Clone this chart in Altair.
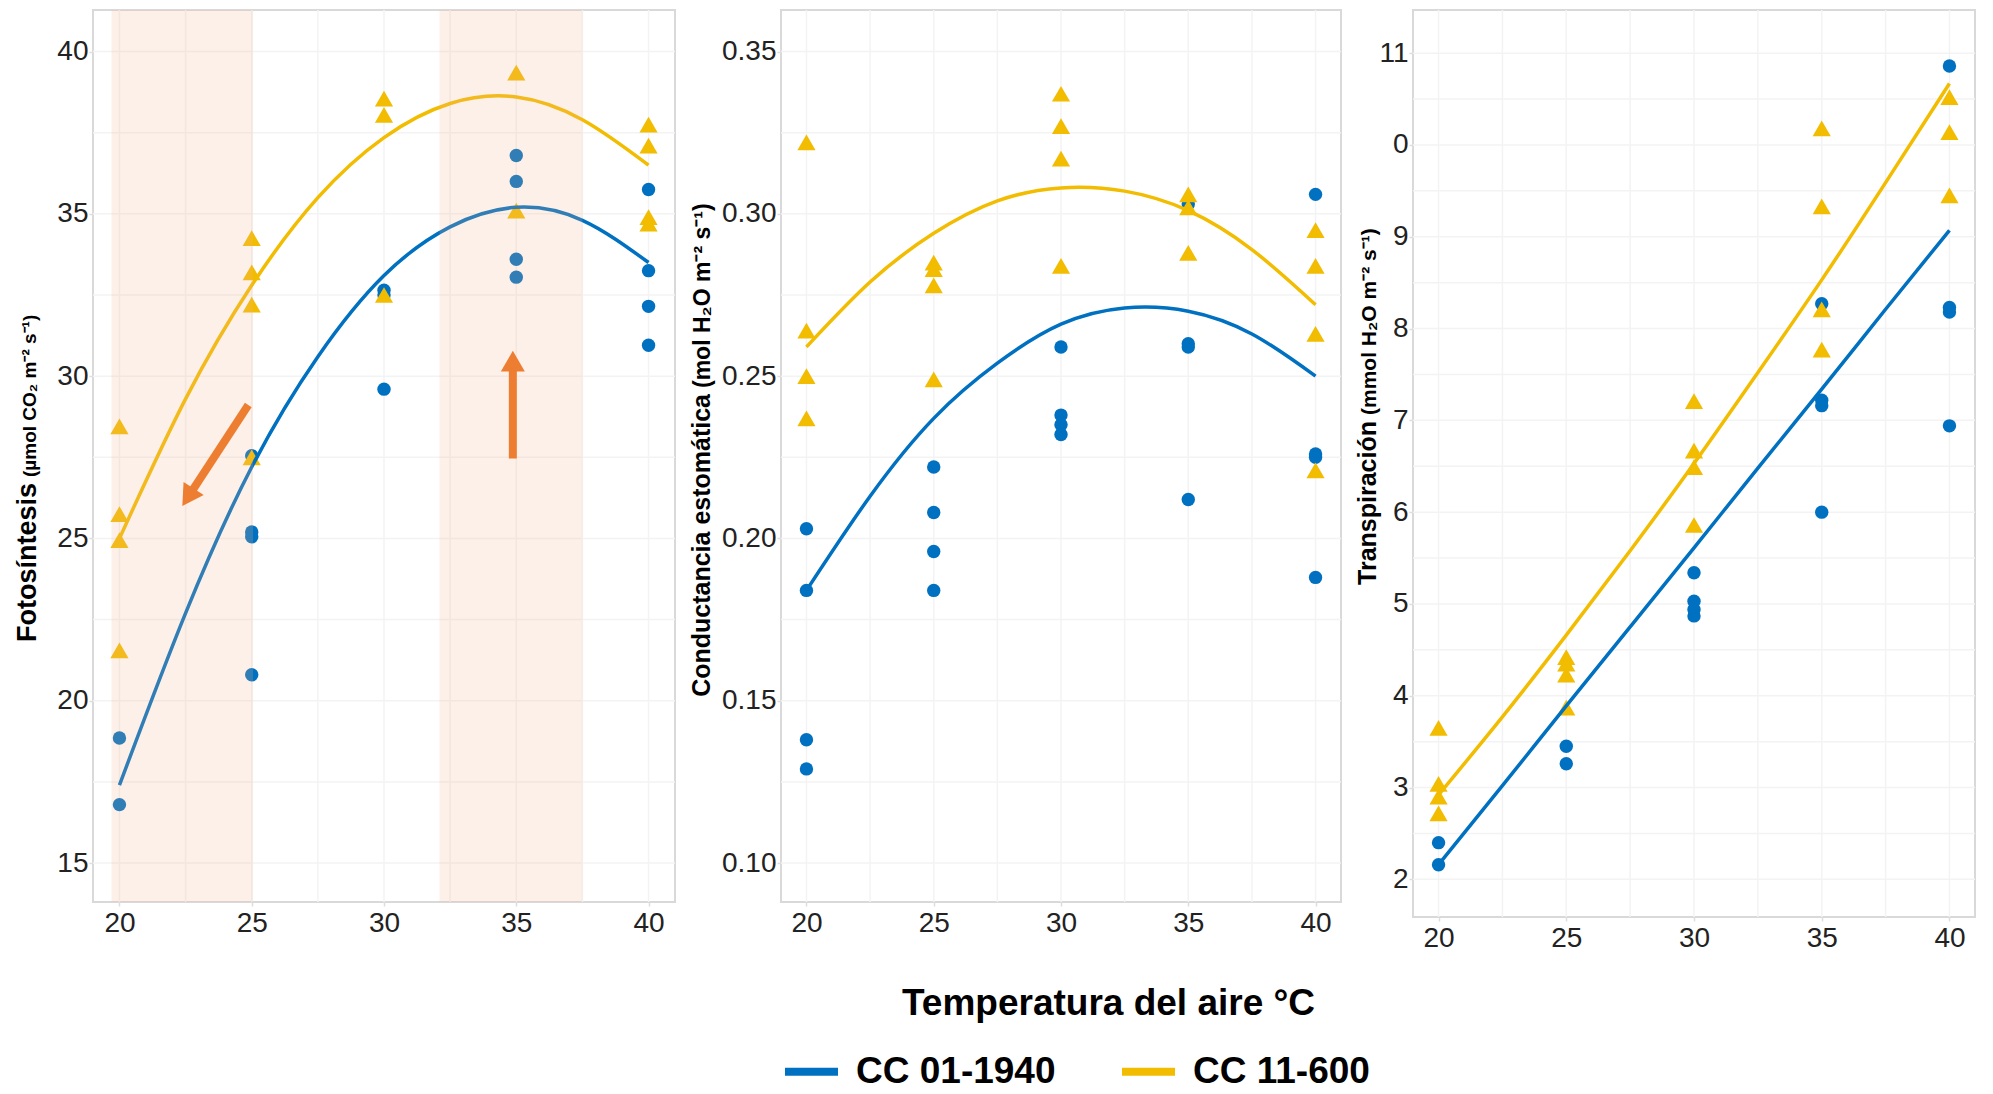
import altair as alt
import pandas as pd

# ---------------- data ----------------
GENOTYPES = ["CC 01-1940", "CC 11-600"]
BLUE = "#0070C0"
YELLOW = "#F2BC00"
LINE_COLORS = [BLUE, YELLOW]

X_TICKS = [20, 25, 30, 35, 40]
X_GRID = [20, 22.5, 25, 27.5, 30, 32.5, 35, 37.5, 40]
CURVE_T = [20, 22.5, 25, 27.5, 30, 32.5, 35, 37.5, 40]

# Fotosintesis
FOTO_BLUE_T = [20, 20, 25, 25, 25, 25, 30, 30, 30, 35, 35, 35, 35, 40, 40, 40, 40]
FOTO_BLUE_V = [18.85, 16.8, 27.55, 25.2, 25.05, 20.8, 32.65, 32.5, 29.6,
               36.8, 36.0, 33.6, 33.05, 35.75, 33.25, 32.15, 30.95]
FOTO_YEL_T = [20, 20, 20, 20, 25, 25, 25, 25, 30, 30, 30, 35, 35, 40, 40, 40, 40]
FOTO_YEL_V = [28.45, 25.75, 24.95, 21.55, 34.25, 33.2, 32.2, 27.5, 38.55, 38.05, 32.5,
              39.35, 35.1, 37.75, 37.1, 34.9, 34.7]
FOTO_CURVE_BLUE = [17.4, 22.7, 27.2, 30.6, 33.1, 34.6, 35.2, 34.8, 33.5]
FOTO_CURVE_YEL = [25.0, 29.3, 32.8, 35.5, 37.35, 38.4, 38.6, 37.9, 36.5]
FOTO_Y_TICKS = [15, 20, 25, 30, 35, 40]
FOTO_Y_GRID = [15, 17.5, 20, 22.5, 25, 27.5, 30, 32.5, 35, 37.5, 40]

# Conductancia estomatica
COND_BLUE_T = [20, 20, 20, 20, 25, 25, 25, 25, 30, 30, 30, 30, 35, 35, 35, 35, 40, 40, 40, 40]
COND_BLUE_V = [0.203, 0.184, 0.138, 0.129, 0.222, 0.208, 0.196, 0.184, 0.259, 0.238, 0.235, 0.232,
               0.303, 0.260, 0.259, 0.212, 0.306, 0.226, 0.225, 0.188]
COND_YEL_T = [20, 20, 20, 20, 25, 25, 25, 25, 30, 30, 30, 30, 35, 35, 35, 40, 40, 40, 40]
COND_YEL_V = [0.322, 0.264, 0.250, 0.237, 0.285, 0.283, 0.278, 0.249, 0.337, 0.327, 0.317, 0.284,
              0.306, 0.302, 0.288, 0.295, 0.284, 0.263, 0.221]
COND_CURVE_BLUE = [0.184, 0.213, 0.237, 0.254, 0.266, 0.271, 0.270, 0.263, 0.250]
COND_CURVE_YEL = [0.259, 0.279, 0.294, 0.304, 0.308, 0.307, 0.301, 0.289, 0.272]
COND_Y_TICKS = [0.10, 0.15, 0.20, 0.25, 0.30, 0.35]
COND_Y_GRID = [0.10, 0.125, 0.15, 0.175, 0.20, 0.225, 0.25, 0.275, 0.30, 0.325, 0.35]

# Transpiracion
TRANS_BLUE_T = [20, 20, 25, 25, 30, 30, 30, 30, 35, 35, 35, 35, 40, 40, 40, 40]
TRANS_BLUE_V = [2.40, 2.16, 3.45, 3.26, 5.34, 5.03, 4.94, 4.87, 8.27, 7.22, 7.16, 6.00,
                10.86, 8.23, 8.18, 6.94]
TRANS_YEL_T = [20, 20, 20, 20, 25, 25, 25, 25, 30, 30, 30, 30, 35, 35, 35, 35, 40, 40, 40]
TRANS_YEL_V = [3.65, 3.04, 2.90, 2.72, 4.42, 4.35, 4.23, 3.87, 7.21, 6.67, 6.49, 5.86,
               10.18, 9.33, 8.21, 7.77, 10.52, 10.14, 9.45]
TRANS_CURVE_BLUE = [2.16, 3.02, 3.89, 4.75, 5.61, 6.48, 7.34, 8.21, 9.07]
TRANS_CURVE_YEL = [2.92, 3.77, 4.66, 5.58, 6.53, 7.52, 8.53, 9.59, 10.67]
TRANS_Y_TICKS = [2, 3, 4, 5, 6, 7, 8, 9, 10, 11]
TRANS_Y_GRID = [2, 2.5, 3, 3.5, 4, 4.5, 5, 5.5, 6, 6.5, 7, 7.5, 8, 8.5, 9, 9.5, 10, 10.5, 11]

# Annotations on the photosynthesis panel
BAND_START = [19.7, 32.1]
BAND_END = [25.05, 37.5]
ARROW_T0 = [24.87, 34.87]
ARROW_V0 = [29.11, 27.46]
ARROW_T1 = [22.59, 34.87]
ARROW_V1 = [26.27, 30.46]
ARROW_ANGLE = [213, 0]

X_TITLE = "Temperatura del aire °C"

LEGEND = alt.Legend(
    orient="none", legendX=688, legendY=1031, direction="horizontal", title=None,
    symbolType="stroke", symbolStrokeWidth=8, symbolSize=2809,
    labelFont="Liberation Sans", labelFontSize=37, labelFontWeight="bold",
    labelColor="#000000", labelOffset=14, labelLimit=0, columnPadding=50, padding=0,
)


def panel(bt, bv, yt, yv, cb, cy, y_dom, y_ticks, y_grid, width, height,
          title_main, title_units, main_size, units_size, title_x, title_split,
          label_expr=None, x_title=None, annotate=False):
    xs = alt.Scale(domain=[19, 41], nice=False, zero=False)
    ys = alt.Scale(domain=y_dom, nice=False, zero=False)
    xkw = dict(values=X_TICKS, grid=False, domain=False, labelFlush=False, labelPadding=3)
    if x_title:
        xkw.update(title=x_title, titleFont="Liberation Sans", titleFontSize=37,
                   titleFontWeight="bold", titleColor="#000000", titleX=327, titleY=112,
                   titleAlign="center", titleBaseline="alphabetic")
    else:
        xkw.update(title=None)
    x_axis = alt.Axis(**xkw)
    ykw = dict(values=y_ticks, title=None, grid=False, domain=False, labelPadding=1)
    if label_expr:
        ykw["labelExpr"] = label_expr
    y_axis = alt.Axis(**ykw)

    def X(f):
        return alt.X(f, scale=xs, axis=x_axis)

    def Y(f):
        return alt.Y(f, scale=ys, axis=y_axis)

    gx = alt.Chart(pd.DataFrame({"g": X_GRID})).mark_rule(
        color="#F3F3F3", strokeWidth=1.5).encode(x=X("g:Q"))
    gy = alt.Chart(pd.DataFrame({"g": y_grid})).mark_rule(
        color="#F3F3F3", strokeWidth=1.5).encode(y=Y("g:Q"))

    pb = alt.Chart(pd.DataFrame({"t": bt, "v": bv})).mark_point(
        filled=True, shape="circle", size=180, color=BLUE, opacity=1
    ).encode(x=X("t:Q"), y=Y("v:Q"))
    py = alt.Chart(pd.DataFrame({"t": yt, "v": yv})).mark_point(
        filled=True, shape="triangle-up", size=330, color=YELLOW, opacity=1
    ).encode(x=X("t:Q"), y=Y("v:Q"))

    curves = pd.DataFrame({
        "t": CURVE_T + CURVE_T,
        "v": cb + cy,
        "genotype": [GENOTYPES[0]] * len(CURVE_T) + [GENOTYPES[1]] * len(CURVE_T),
    })
    ln = alt.Chart(curves).mark_line(strokeWidth=3.5, interpolate="natural").encode(
        x=X("t:Q"), y=Y("v:Q"),
        color=alt.Color("genotype:N", scale=alt.Scale(domain=GENOTYPES, range=LINE_COLORS),
                        legend=LEGEND),
    )

    layers = [gx, gy, pb, py, ln]

    if annotate:
        band = alt.Chart(pd.DataFrame({"a": BAND_START, "b": BAND_END})).mark_rect(
            color="#F5B58E", opacity=0.2).encode(x=X("a:Q"), x2="b:Q")
        arr = pd.DataFrame({"t0": ARROW_T0, "v0": ARROW_V0, "t1": ARROW_T1,
                            "v1": ARROW_V1, "ang": ARROW_ANGLE})
        shaft = alt.Chart(arr).mark_rule(color="#ED7D31", strokeWidth=8).encode(
            x=X("t0:Q"), y=Y("v0:Q"), x2="t1:Q", y2="v1:Q")
        head = alt.Chart(arr).mark_point(
            shape="triangle-up", filled=True, size=576, color="#ED7D31", opacity=1
        ).encode(x=X("t1:Q"), y=Y("v1:Q"), angle=alt.Angle("ang:Q", scale=None))
        layers += [band, shaft, head]

    t_main = alt.Chart(pd.DataFrame({"s": [title_main]})).mark_text(
        angle=270, align="right", baseline="alphabetic", font="Liberation Sans",
        fontSize=main_size, fontWeight="bold", color="#000000"
    ).encode(text="s:N", x=alt.value(title_x), y=alt.value(title_split + 3))
    t_units = alt.Chart(pd.DataFrame({"s": [title_units]})).mark_text(
        angle=270, align="left", baseline="alphabetic", font="Liberation Sans",
        fontSize=units_size, fontWeight="bold", color="#000000"
    ).encode(text="s:N", x=alt.value(title_x), y=alt.value(title_split - 3))
    layers += [t_main, t_units]

    return alt.layer(*layers).properties(width=width, height=height)


p1 = panel(FOTO_BLUE_T, FOTO_BLUE_V, FOTO_YEL_T, FOTO_YEL_V, FOTO_CURVE_BLUE, FOTO_CURVE_YEL,
           [13.8, 41.28], FOTO_Y_TICKS, FOTO_Y_GRID, 582, 892,
           "Fotosíntesis", "(µmol CO₂ m⁻² s⁻¹)", 27, 19, -57, 470, annotate=True)
p2 = panel(COND_BLUE_T, COND_BLUE_V, COND_YEL_T, COND_YEL_V, COND_CURVE_BLUE, COND_CURVE_YEL,
           [0.088, 0.3628], COND_Y_TICKS, COND_Y_GRID, 560, 892,
           "Conductancia estomática", "(mol H₂O m⁻² s⁻¹)", 25, 23, -71, 381, x_title=X_TITLE)
p3 = panel(TRANS_BLUE_T, TRANS_BLUE_V, TRANS_YEL_T, TRANS_YEL_V, TRANS_CURVE_BLUE, TRANS_CURVE_YEL,
           [1.59, 11.47], TRANS_Y_TICKS, TRANS_Y_GRID, 562, 907,
           "Transpiración", "(mmol H₂O m⁻² s⁻¹)", 25, 21, -37, 408,
           label_expr="datum.value == 10 ? '0' : datum.label")

chart = alt.hconcat(p1, p2, p3, spacing=12).properties(
    padding={"left": 5, "top": 0, "right": 0, "bottom": 0}
).configure_view(
    stroke="#D9D9D9", strokeWidth=2
).configure_axis(
    labelFont="Liberation Sans", labelFontSize=28, labelColor="#222222",
    tickColor="#DDDDDD", tickSize=4, tickWidth=1.5
)

chart.save("out.html", embed_options={"renderer": "svg", "actions": False})
